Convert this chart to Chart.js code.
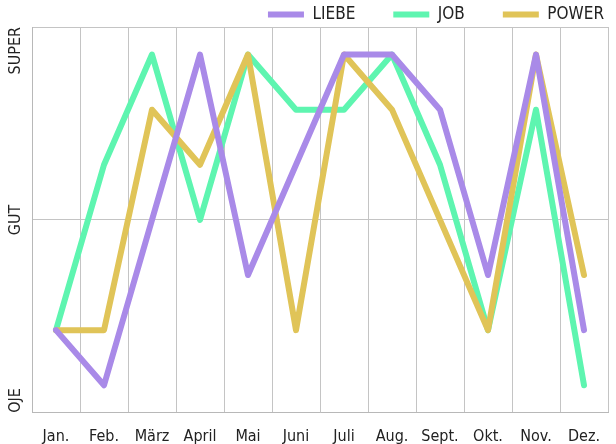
<!DOCTYPE html>
<html>
<head>
<meta charset="utf-8">
<script src="https://cdn.jsdelivr.net/npm/chart.js@4"></script>
<style>
  html, body { margin: 0; padding: 0; background: #fff; }
  #wrap { width: 616px; height: 444px; }
</style>
</head>
<body>
<div id="wrap"><canvas id="moodChart"></canvas></div>
<script>
const months = ['Jan.', 'Feb.', 'März', 'April', 'Mai', 'Juni', 'Juli', 'Aug.', 'Sept.', 'Okt.', 'Nov.', 'Dez.'];
const liebe = [2, 1, 4, 7, 3, 5, 7, 7, 6, 3, 7, 2];
const job = [2, 5, 7, 4, 7, 6, 6, 7, 5, 2, 6, 1];
const power = [2, 2, 6, 5, 7, 2, 7, 6, 4, 2, 7, 3];
const moodLabels = ['OJE', 'GUT', 'SUPER'];
const moodTicks = [0.5, 4, 7.5];

const FONT = '"Liberation Sans Narrow", "DejaVu Sans Condensed", sans-serif';
Chart.defaults.font.family = FONT;
Chart.defaults.font.size = 16;
Chart.defaults.color = '#222';

// rotated mood labels on the left side
const moodAxisLabels = {
  id: 'moodAxisLabels',
  afterLayout(chart) {
    // push legend to the right edge, keeping wide gaps between items
    chart.legend.left += 34;
    chart.legend.right += 34;
  },
  afterDraw(chart) {
    const y = chart.scales.y;
    const ctx = chart.ctx;
    ctx.save();
    ctx.font = '16px ' + FONT;
    ctx.fillStyle = '#222';
    ctx.textBaseline = 'middle';
    y.ticks.forEach((t, i) => {
      const py = y.getPixelForValue(t.value);
      ctx.save();
      ctx.translate(16, py);
      ctx.rotate(-Math.PI / 2);
      ctx.textAlign = i === 0 ? 'left' : (i === y.ticks.length - 1 ? 'right' : 'center');
      ctx.fillText(moodLabels[i], 0, 0);
      ctx.restore();
    });
    ctx.restore();
  }
};

const line = (label, data, color, order) => ({
  label, data, order,
  borderColor: color,
  backgroundColor: color,
  borderWidth: 6,
  borderCapStyle: 'round',
  borderJoinStyle: 'round',
  pointRadius: 0,
  tension: 0,
  fill: false
});

const ctx = document.getElementById('moodChart').getContext('2d');
const moodChart = new Chart(ctx, {
  type: 'line',
  data: {
    labels: months,
    datasets: [
      line('LIEBE', liebe, '#a98ae8', 0),
      line('JOB', job, '#5ef5b0', 2),
      line('POWER', power, '#e0c458', 1)
    ]
  },
  options: {
    responsive: true,
    maintainAspectRatio: false,
    animation: false,
    layout: { padding: { left: 32, right: 8, top: -32, bottom: -16 } },
    plugins: {
      legend: {
        position: 'top',
        align: 'end',
        maxHeight: 59,
        labels: {
          usePointStyle: true,
          pointStyle: 'line',
          pointStyleWidth: 36,
          boxHeight: 8,
          padding: 38,
          font: { size: 17 },
          sort: (a, b) => a.datasetIndex - b.datasetIndex
        }
      },
      tooltip: { enabled: false }
    },
    scales: {
      x: {
        offset: true,
        grid: { offset: true, color: '#c4c4c4', drawTicks: false },
        border: { color: '#b8b8b8' },
        ticks: { padding: 14 }
      },
      y: {
        min: 0.5,
        max: 7.5,
        afterBuildTicks: s => { s.ticks = moodTicks.map(v => ({ value: v })); },
        ticks: { display: false },
        grid: { color: '#c4c4c4', drawTicks: false },
        border: { color: '#b8b8b8' }
      }
    }
  },
  plugins: [moodAxisLabels]
});
</script>
</body>
</html>
